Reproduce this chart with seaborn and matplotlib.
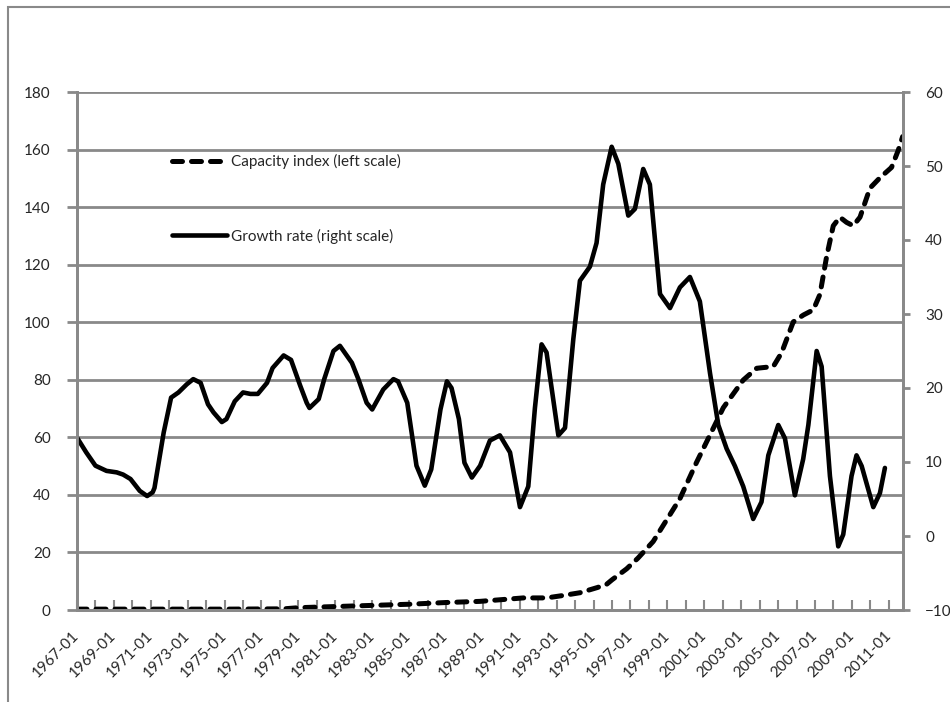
import matplotlib
matplotlib.use("Agg")
import matplotlib.pyplot as plt
from matplotlib.patches import Rectangle
from matplotlib.ticker import MultipleLocator, FixedLocator
import seaborn as sns

# Capacity index (left scale), decimal years
cap_year = [1967.0, 1970.0, 1975.0, 1978.2, 1979.0, 1981.0, 1983.0, 1985.0,
            1987.0, 1988.84, 1991.19, 1992.45, 1993.3, 1994.26, 1995.2, 1995.7,
            1996.0, 1996.79, 1997.4, 1998.23, 1999.68, 2000.58, 2001.49, 2002.03,
            2003.11, 2003.84, 2004.74, 2005.19, 2005.82, 2006.37, 2006.91, 2007.27,
            2007.63, 2007.99, 2008.35, 2008.71, 2009.07, 2009.44, 2009.98, 2010.52,
            2011.15, 2011.51, 2011.75]
cap_value = [0.3, 0.3, 0.3, 0.4, 0.8, 1.2, 1.6, 2.0,
             2.6, 3.0, 4.2, 4.2, 5.0, 6.0, 7.8, 8.9,
             10.5, 14.3, 18.0, 23.8, 38.7, 51.3, 63.2, 70.3,
             79.9, 84.0, 84.6, 89.4, 100.1, 102.5, 104.3, 109.7,
             122.8, 133.5, 136.5, 134.7, 133.5, 136.5, 146.6, 150.2,
             153.8, 159.7, 164.5]

# Growth rate (right scale)
gr_year = [1967.0, 1967.5, 1968.0, 1968.6, 1969.15, 1969.5, 1969.9, 1970.4, 1970.8, 1971.1,
           1971.2, 1971.7, 1972.1, 1972.5, 1972.95, 1973.3, 1973.7, 1974.1, 1974.4, 1974.85,
           1975.1, 1975.55, 1976.0, 1976.4, 1976.8, 1977.3, 1977.6, 1978.2, 1978.6, 1979.1,
           1979.45, 1979.6, 1980.1, 1980.4, 1980.9, 1981.25, 1981.9, 1982.25, 1982.7, 1983.0,
           1983.6, 1984.15, 1984.4, 1984.9, 1985.4, 1985.85, 1986.2, 1986.7, 1987.05, 1987.3,
           1987.7, 1988.0, 1988.4, 1988.85, 1989.38, 1989.92, 1990.47, 1991.01, 1991.46, 1991.82,
           1992.18, 1992.45, 1993.09, 1993.45, 1993.9, 1994.26, 1994.8, 1995.16, 1995.52, 1995.98,
           1996.34, 1996.88, 1997.24, 1997.69, 1998.05, 1998.6, 1999.14, 1999.68, 2000.22, 2000.76,
           2001.31, 2001.76, 2002.21, 2002.66, 2003.11, 2003.65, 2004.1, 2004.47, 2005.01, 2005.37,
           2005.91, 2006.36, 2006.64, 2007.09, 2007.36, 2007.81, 2008.26, 2008.53, 2008.98, 2009.25,
           2009.53, 2010.16, 2010.52, 2010.79]
gr_value = [13.3, 11.3, 9.5, 8.8, 8.6, 8.3, 7.7, 6.1, 5.4, 5.9,
            6.5, 14.0, 18.7, 19.4, 20.5, 21.2, 20.7, 17.8, 16.7, 15.4,
            15.8, 18.2, 19.4, 19.2, 19.2, 20.7, 22.7, 24.4, 23.8, 20.3,
            18.0, 17.3, 18.5, 21.2, 25.0, 25.7, 23.4, 21.2, 18.0, 17.1,
            19.8, 21.2, 20.9, 18.0, 9.5, 6.8, 9.0, 17.1, 20.9, 20.0,
            15.8, 9.9, 7.9, 9.5, 12.9, 13.6, 11.3, 3.9, 6.7, 17.3,
            25.9, 24.8, 13.6, 14.6, 26.6, 34.5, 36.4, 39.6, 47.5, 52.6,
            50.3, 43.3, 44.2, 49.6, 47.5, 32.7, 30.8, 33.6, 35.0, 31.7,
            22.0, 15.0, 11.8, 9.45, 6.7, 2.3, 4.6, 10.9, 15.0, 13.2,
            5.5, 10.4, 15.0, 25.0, 22.9, 8.1, -1.4, 0.2, 8.1, 10.9,
            9.45, 3.9, 5.8, 9.2]

label_years = list(range(1967, 2012, 2))
GRAY = '#898989'

sns.set_style('white')
plt.rcParams['font.family'] = ['Lato', 'DejaVu Sans']
plt.rcParams['font.size'] = 11

fig = plt.figure(figsize=(9.5, 7.02), dpi=100)
W, H = 950, 702
ax = fig.add_axes([77 / W, 1 - 610 / H, (903 - 77) / W, (610 - 92) / H])

# frame around the chart area (partly off canvas)
fig.patches.append(Rectangle((8 / W, -0.05), 1.1, 1 - 7 / H + 0.05,
                             transform=fig.transFigure, fill=False,
                             edgecolor=GRAY, linewidth=1.5))

sns.lineplot(x=cap_year, y=cap_value, ax=ax, color='black', linewidth=3.6,
             label='Capacity index (left scale)', legend=False)
cap_line = ax.lines[-1]
cap_line.set_dashes([2.0, 1.8])
cap_line.set_dash_capstyle('round')

ax2 = ax.twinx()
sns.lineplot(x=gr_year, y=gr_value, ax=ax2, color='black', linewidth=3.3,
             label='Growth rate (right scale)', legend=False)
gr_line = ax2.lines[-1]
gr_line.set_solid_capstyle('round')
gr_line.set_solid_joinstyle('round')

ax.set_xlim(1967.0, 2011.77)
ax.set_ylim(0, 180)
ax2.set_ylim(-10, 60)
ax.yaxis.set_major_locator(MultipleLocator(20))
ax2.yaxis.set_major_locator(MultipleLocator(10))
ax.xaxis.set_major_locator(FixedLocator(label_years))
ax.xaxis.set_minor_locator(FixedLocator(list(range(1968, 2012, 2))))
ax.set_xticklabels([f'{y}-01' for y in label_years])

ax.grid(axis='y', color=GRAY, linewidth=2)
ax.grid(axis='x', visible=False)
ax2.grid(False)
for a in (ax, ax2):
    for side, sp in a.spines.items():
        sp.set_color(GRAY)
        sp.set_linewidth(2)
ax.spines['top'].set_visible(False)
ax2.spines['top'].set_visible(False)

ax.tick_params(axis='y', which='major', direction='out', length=7, width=2,
               color=GRAY, pad=12, labelsize=11, left=True)
ax2.tick_params(axis='y', which='major', direction='out', length=5, width=2,
                color=GRAY, pad=11, labelsize=11, right=True)
ax.tick_params(axis='x', which='both', direction='in', length=7, width=1.5,
               color=GRAY, bottom=True)
ax.tick_params(axis='x', which='major', pad=17, labelsize=11)
for lbl in ax.get_xticklabels():
    lbl.set_rotation(45)
    lbl.set_ha('right')
    lbl.set_va('center')
    lbl.set_rotation_mode('anchor')

ax.set_xlabel('')
ax.set_ylabel('')
ax2.set_ylabel('')

leg = ax2.legend([cap_line, gr_line],
                 ['Capacity index (left scale)', 'Growth rate (right scale)'],
                 loc='upper left', bbox_to_anchor=(172 / W, 1 - 154 / H),
                 bbox_transform=fig.transFigure, frameon=False, fontsize=11,
                 handlelength=3.6, handletextpad=0.25, labelspacing=3.9,
                 borderpad=0, borderaxespad=0)

fig.savefig('out.png', dpi=100)
